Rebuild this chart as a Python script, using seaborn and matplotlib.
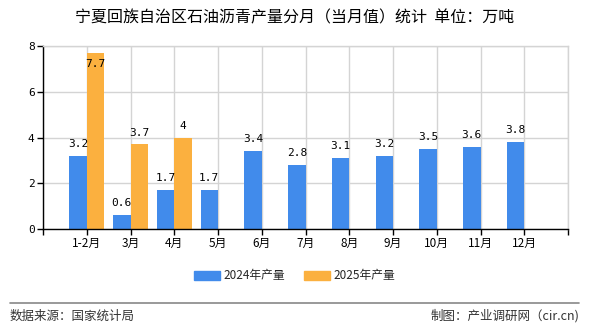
import matplotlib
matplotlib.use("Agg")
import matplotlib.pyplot as plt
import matplotlib.lines as mlines
import seaborn as sns
import pandas as pd
import numpy as np

months = ["1-2月", "3月", "4月", "5月", "6月", "7月", "8月", "9月", "10月", "11月", "12月"]
vals_2024 = [3.2, 0.6, 1.7, 1.7, 3.4, 2.8, 3.1, 3.2, 3.5, 3.6, 3.8]
vals_2025 = [7.7, 3.7, 4, None, None, None, None, None, None, None, None]
series = ["2024年产量", "2025年产量"]
colors = ["#418BEB", "#FBB03F"]
title = "宁夏回族自治区石油沥青产量分月（当月值）统计  单位：万吨"

sns.set_theme(style="white")
plt.rcParams["font.family"] = ["Noto Sans CJK SC", "DejaVu Sans"]
plt.rcParams["axes.unicode_minus"] = False

rows = []
for m, v in zip(months, vals_2024):
    rows.append({"月份": m, "系列": series[0], "值": v})
for m, v in zip(months, vals_2025):
    rows.append({"月份": m, "系列": series[1], "值": np.nan if v is None else v})
df = pd.DataFrame(rows)

fig = plt.figure(figsize=(5.9, 3.3), dpi=100)
ax = fig.add_axes([43 / 590, 101 / 330, 525 / 590, 183 / 330])

sns.barplot(data=df, x="月份", y="值", hue="系列", order=months, hue_order=series,
            palette=colors, width=0.8, saturation=1, ax=ax, legend=False, errorbar=None,
            linewidth=0, edgecolor="none")

ax.set_xlim(-1, len(months))
ax.set_ylim(0, 8)
ax.set_xticks(range(-1, len(months) + 1))
ax.set_xticklabels([""] + months + [""], fontsize=8.5)
ax.set_yticks([0, 2, 4, 6, 8])
ax.set_yticklabels(["0", "2", "4", "6", "8"], fontsize=8, family="DejaVu Sans Mono")
ax.set_xlabel("")
ax.set_ylabel("")
ax.grid(True, color="#d4d4d4", linewidth=1)
ax.set_axisbelow(True)
for s in ["top", "right"]:
    ax.spines[s].set_color("#d4d4d4")
    ax.spines[s].set_linewidth(1)
for s in ["left", "bottom"]:
    ax.spines[s].set_color("black")
    ax.spines[s].set_linewidth(1)
ax.tick_params(axis="both", which="both", direction="out", length=4, width=1,
               color="black", bottom=True, left=True, pad=2, labelcolor="black")

# value labels
for i, v in enumerate(vals_2024):
    ax.text(i - 0.2, v + 0.3, f"{v:g}", ha="center", va="bottom", fontsize=8,
            family="DejaVu Sans Mono", color="black")
for i, v in enumerate(vals_2025):
    if v is None:
        continue
    y = v + 0.3
    va = "bottom"
    if v > 7:
        y = v - 0.25
        va = "top"
    ax.text(i + 0.2, y, f"{v:g}", ha="center", va=va, fontsize=8,
            family="DejaVu Sans Mono", color="black", clip_on=False)

fig.text(0.5, 1 - 18 / 330, title, ha="center", va="center", fontsize=11.5, color="black")

handles = [plt.Rectangle((0, 0), 1, 1, color=c) for c in colors]
fig.legend(handles, series, loc="center", bbox_to_anchor=(0.5, 1 - 276 / 330), ncol=2,
           frameon=False, fontsize=8.5, handlelength=2.2, handleheight=0.9,
           handletextpad=0.3, columnspacing=1.6)

fig.add_artist(mlines.Line2D([10 / 590, 579 / 590], [27 / 330, 27 / 330],
                             color="#888888", linewidth=1.2, transform=fig.transFigure))
fig.text(10 / 590, 14 / 330, "数据来源：国家统计局", ha="left", va="center", fontsize=9, color="#333333")
fig.text(579 / 590, 14 / 330, "制图：产业调研网（cir.cn)", ha="right", va="center", fontsize=9, color="#333333")

fig.savefig("out.png", dpi=100, facecolor="white")
